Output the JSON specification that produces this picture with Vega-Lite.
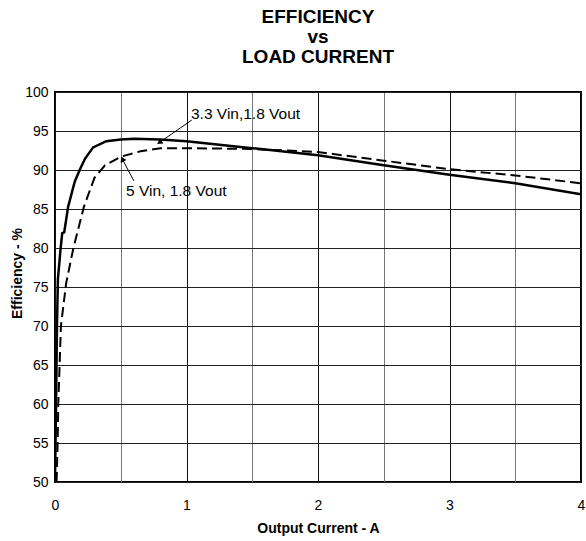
{
  "$schema": "https://vega.github.io/schema/vega-lite/v6.json",
  "width": 526,
  "height": 390,
  "autosize": {"type": "none"},
  "padding": {"left": 55, "top": 92, "right": 5, "bottom": 59},
  "background": "white",
  "config": {
    "font": "Liberation Sans",
    "view": {"stroke": "black", "strokeWidth": 2},
    "axis": {"labelFont": "Liberation Sans", "titleFont": "Liberation Sans", "labelColor": "black", "titleColor": "black"}
  },
  "title": {
    "text": ["EFFICIENCY", "vs", "LOAD CURRENT"],
    "fontSize": 19,
    "fontWeight": "bold",
    "font": "Liberation Sans",
    "lineHeight": 20,
    "anchor": "middle",
    "offset": 18,
    "color": "black"
  },
  "datasets": {
    "curves": [
      {"series": "3.3 Vin", "current": 0.0, "efficiency": 50},
      {"series": "3.3 Vin", "current": 0.008, "efficiency": 60},
      {"series": "3.3 Vin", "current": 0.015, "efficiency": 70},
      {"series": "3.3 Vin", "current": 0.022, "efficiency": 76},
      {"series": "3.3 Vin", "current": 0.043, "efficiency": 80},
      {"series": "3.3 Vin", "current": 0.055, "efficiency": 81.9},
      {"series": "3.3 Vin", "current": 0.07, "efficiency": 82},
      {"series": "3.3 Vin", "current": 0.1, "efficiency": 85.3},
      {"series": "3.3 Vin", "current": 0.15, "efficiency": 88.5},
      {"series": "3.3 Vin", "current": 0.19, "efficiency": 90.1},
      {"series": "3.3 Vin", "current": 0.23, "efficiency": 91.5},
      {"series": "3.3 Vin", "current": 0.29, "efficiency": 92.9},
      {"series": "3.3 Vin", "current": 0.39, "efficiency": 93.7},
      {"series": "3.3 Vin", "current": 0.5, "efficiency": 93.9},
      {"series": "3.3 Vin", "current": 0.6, "efficiency": 94.0},
      {"series": "3.3 Vin", "current": 0.8, "efficiency": 93.9},
      {"series": "3.3 Vin", "current": 1.0, "efficiency": 93.7},
      {"series": "3.3 Vin", "current": 1.5, "efficiency": 92.8},
      {"series": "3.3 Vin", "current": 2.0, "efficiency": 91.9},
      {"series": "3.3 Vin", "current": 2.5, "efficiency": 90.6},
      {"series": "3.3 Vin", "current": 3.0, "efficiency": 89.4},
      {"series": "3.3 Vin", "current": 3.5, "efficiency": 88.3},
      {"series": "3.3 Vin", "current": 4.0, "efficiency": 86.9},
      {"series": "5 Vin", "current": 0.012, "efficiency": 50},
      {"series": "5 Vin", "current": 0.02, "efficiency": 55},
      {"series": "5 Vin", "current": 0.025, "efficiency": 60},
      {"series": "5 Vin", "current": 0.035, "efficiency": 65},
      {"series": "5 Vin", "current": 0.045, "efficiency": 70},
      {"series": "5 Vin", "current": 0.085, "efficiency": 75.5},
      {"series": "5 Vin", "current": 0.14, "efficiency": 80},
      {"series": "5 Vin", "current": 0.22, "efficiency": 85.3},
      {"series": "5 Vin", "current": 0.3, "efficiency": 89.0},
      {"series": "5 Vin", "current": 0.38, "efficiency": 90.6},
      {"series": "5 Vin", "current": 0.5, "efficiency": 91.7},
      {"series": "5 Vin", "current": 0.65, "efficiency": 92.4},
      {"series": "5 Vin", "current": 0.8, "efficiency": 92.8},
      {"series": "5 Vin", "current": 1.0, "efficiency": 92.8},
      {"series": "5 Vin", "current": 1.5, "efficiency": 92.7},
      {"series": "5 Vin", "current": 2.0, "efficiency": 92.3},
      {"series": "5 Vin", "current": 2.5, "efficiency": 91.2},
      {"series": "5 Vin", "current": 3.0, "efficiency": 90.1},
      {"series": "5 Vin", "current": 3.5, "efficiency": 89.3},
      {"series": "5 Vin", "current": 4.0, "efficiency": 88.3}
    ],
    "labels": [
      {"label": "3.3 Vin,1.8 Vout", "current": 1.034, "efficiency": 97.2},
      {"label": "5 Vin, 1.8 Vout", "current": 0.54, "efficiency": 87.3}
    ],
    "arrows": [
      {"current": 1.04, "efficiency": 96.4, "current2": 0.8, "efficiency2": 93.6},
      {"current": 0.6, "efficiency": 88.6, "current2": 0.515, "efficiency2": 91.3}
    ],
    "arrowtips": [
      {"current": 0.8, "efficiency": 93.6, "angle": 236},
      {"current": 0.515, "efficiency": 91.3, "angle": 333}
    ]
  },
  "encoding": {
    "x": {
      "field": "current", "type": "quantitative",
      "scale": {"domain": [0, 4], "nice": false, "zero": false},
      "axis": {
        "values": [0, 0.5, 1, 1.5, 2, 2.5, 3, 3.5, 4],
        "labelExpr": "datum.value % 1 == 0 ? format(datum.value, 'd') : ''",
        "labelOverlap": false,
        "labelFlush": false,
        "title": "Output Current - A",
        "titleFontWeight": "bold",
        "titleFontSize": 14,
        "titlePadding": 9,
        "labelFontSize": 14,
        "labelPadding": 16,
        "ticks": false,
        "domain": false,
        "grid": true,
        "gridColor": {"condition": {"test": "datum.value % 1 == 0", "value": "#111111"}, "value": "#777777"},
        "gridWidth": 1,
        "gridOpacity": 1
      }
    },
    "y": {
      "field": "efficiency", "type": "quantitative",
      "scale": {"domain": [50, 100], "nice": false, "zero": false},
      "axis": {
        "values": [50.0, 55.0, 60.0, 65.0, 70.0, 75.0, 80.0, 85.0, 90.0, 95.0, 100.0],
        "labelExpr": "format(datum.value, 'd')",
        "labelOverlap": false,
        "labelFlush": false,
        "title": "Efficiency - %",
        "titleFontWeight": "bold",
        "titleFontSize": 14,
        "titleX": -38,
        "titleY": 181,
        "titleBaseline": "middle",
        "labelFontSize": 14,
        "labelPadding": 7,
        "ticks": false,
        "domain": false,
        "grid": true,
        "gridColor": "#222222",
        "gridWidth": 1,
        "gridOpacity": 1
      }
    }
  },
  "layer": [
    {
      "data": {"name": "curves"},
      "transform": [{"filter": "datum.series == '3.3 Vin'"}],
      "mark": {"type": "line", "color": "black", "strokeWidth": 2.5, "clip": true}
    },
    {
      "data": {"name": "curves"},
      "transform": [{"filter": "datum.series == '5 Vin'"}],
      "mark": {"type": "line", "color": "black", "strokeWidth": 2, "strokeDash": [10, 5], "clip": true}
    },
    {
      "data": {"name": "labels"},
      "mark": {"type": "text", "align": "left", "baseline": "middle", "fontSize": 15.5, "font": "Liberation Sans", "color": "black"},
      "encoding": {
        "text": {"field": "label"}
      }
    },
    {
      "data": {"name": "arrows"},
      "mark": {"type": "rule", "color": "black", "strokeWidth": 1},
      "encoding": {
        "x2": {"field": "current2"},
        "y2": {"field": "efficiency2"}
      }
    },
    {
      "data": {"name": "arrowtips"},
      "mark": {"type": "point", "shape": "triangle", "filled": true, "color": "black", "size": 40, "opacity": 1},
      "encoding": {
        "angle": {"field": "angle", "type": "quantitative", "scale": null}
      }
    }
  ]
}
